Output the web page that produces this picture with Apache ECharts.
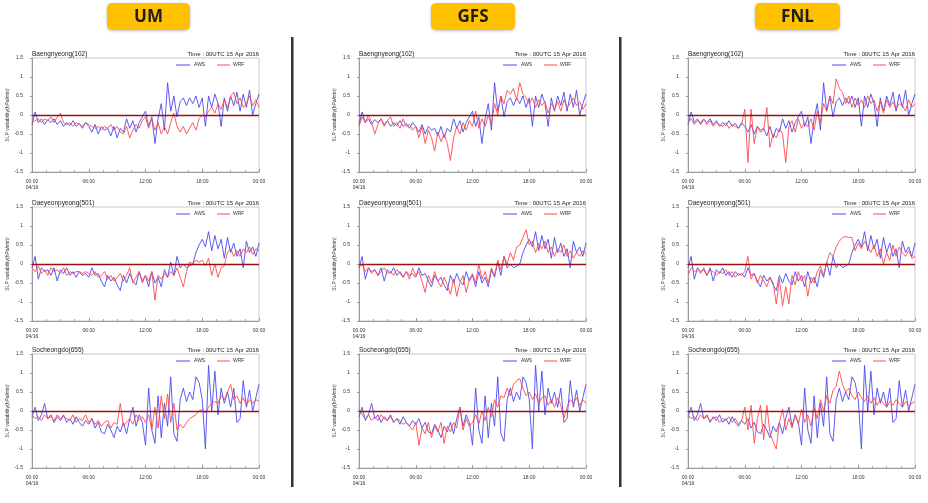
<!DOCTYPE html>
<html><head><meta charset="utf-8">
<script src="https://cdn.jsdelivr.net/npm/echarts/dist/echarts.min.js"></script>
<style>html,body{margin:0;padding:0;background:#fff}#c{width:928px;height:503px}</style>
</head><body><div id="c"></div>
<script>
// ---------- data ----------
const models = ['UM', 'GFS', 'FNL'];
const stations = ['Baengnyeong(102)', 'Daeyeonpyeong(501)', 'Socheongdo(655)'];
const timeLabel = 'Time : 00UTC 15 Apr 2016';
const yAxisName = 'SLP variability(hPa/min)';
const xTickLabels = ['00:00', '06:00', '12:00', '18:00', '00:00'];
const dateLabel = '04/16';
const legendNames = ['AWS', 'WRF'];
const stepHours = 1 / 3; // one sample every 20 min, 73 samples over 24 h

const aws_Baengnyeong = [
 -0.25, 0.08, -0.2, -0.1, -0.25, -0.12, -0.2, -0.1, -0.25,
 -0.15, -0.3, -0.2, -0.28, -0.15, -0.3, -0.22, -0.35, -0.2,
 -0.3, -0.45, -0.25, -0.5, -0.3, -0.4, -0.35, -0.55, -0.3,
 -0.6, -0.35, -0.45, -0.1, -0.35, -0.15, -0.45, -0.2, -0.05,
 0.1, -0.3, -0.05, -0.75, -0.1, 0.3, -0.4, 0.85, 0.1,
 0.5, -0.05, 0.35, 0.45, 0.25, 0.45, 0.3, 0.5, 0.2,
 0.45, -0.3, 0.5, 0.2, 0.55, 0.3, -0.3, 0.45, 0.1,
 0.5, 0.25, 0.6, 0.1, 0.55, 0.2, 0.65, 0.0, 0.3,
 0.55];
const aws_Daeyeonpyeong = [
 -0.1, 0.2, -0.4, -0.1, -0.2, -0.15, -0.3, -0.1, -0.45,
 -0.15, -0.25, -0.1, -0.3, -0.2, -0.35, -0.2, -0.3, -0.25,
 -0.35, -0.1, -0.3, -0.25, -0.45, -0.6, -0.3, -0.45, -0.35,
 -0.55, -0.7, -0.3, -0.5, -0.25, -0.45, -0.55, -0.2, -0.45,
 -0.3, -0.6, -0.2, -0.5, -0.35, -0.6, -0.15, -0.35, 0.05,
 -0.3, 0.2, -0.1, 0.0, -0.1, -0.05, 0.0, 0.3, 0.5,
 0.65, 0.45, 0.85, 0.35, 0.75, 0.4, 0.65, 0.15, 0.7,
 0.3, 0.55, 0.2, 0.4, -0.1, 0.6, 0.3, 0.45, 0.2,
 0.55];
const aws_Socheongdo = [
 -0.15, 0.1, -0.25, -0.1, 0.2, -0.2, -0.1, -0.3, -0.15,
 -0.25, -0.1, -0.3, -0.2, -0.35, -0.15, -0.3, -0.4, -0.25,
 -0.35, -0.2, -0.45, -0.3, -0.55, -0.6, -0.35, -0.5, -0.7,
 -0.4, -0.55, -0.3, -0.6, -0.2, 0.1, -0.4, -0.1, -0.3,
 -0.9, 0.6, -0.5, -0.85, 0.4, -0.7, 0.2, -0.4, 0.9,
 -0.6, -0.8, 0.3, 0.6, 0.25, 0.5, 0.3, 0.9, 0.75,
 0.3, -1.0, 1.2, 0.0, 1.05, -0.1, 0.6, 0.2, 0.5,
 0.1, 0.6, -0.3, -0.2, 0.8, 0.1, 0.55, 0.0, 0.35,
 0.7];

const wrf_UM_Baengnyeong = [
 -0.2, -0.15, -0.1, -0.2, -0.1, -0.15, -0.05, -0.2, -0.05,
 0.05, -0.2, -0.25, -0.2, -0.3, -0.2, -0.25, -0.3, -0.2,
 -0.25, -0.3, -0.35, -0.3, -0.4, -0.3, -0.35, -0.25, -0.4,
 -0.3, -0.45, -0.5, -0.3, -0.6, -0.4, -0.25, -0.35, -0.15,
 -0.05, -0.35, -0.1, -0.4, -0.2, -0.5, -0.3, -0.5, -0.2,
 0.05, -0.3, -0.45, -0.3, -0.5, -0.35, -0.2, -0.4, -0.1,
 0.0, -0.05, 0.1, 0.2, 0.05, 0.3, 0.15, 0.4, 0.2,
 0.5, 0.6, 0.3, 0.45, 0.2, 0.3, 0.5, 0.25, 0.4,
 0.2];
const wrf_GFS_Baengnyeong = [
 -0.3, -0.05, -0.2, 0.0, -0.2, -0.5, -0.25, -0.1, -0.3,
 -0.15, -0.05, -0.3, -0.2, -0.35, -0.1, -0.3, -0.25, -0.4,
 -0.3, -0.6, -0.3, -0.75, -0.4, -0.6, -0.95, -0.45, -0.7,
 -0.5, -0.75, -1.2, -0.6, -0.3, -0.5, -0.2, -0.4, -0.15,
 -0.3, 0.1, -0.35, -0.1, -0.3, 0.0, -0.25, 0.3, 0.0,
 0.5, 0.3, 0.65, 0.55, 0.7, 0.4, 0.85, 0.55, 0.45,
 0.3, 0.45, 0.2, 0.4, 0.25, 0.35, 0.05, 0.3, 0.15,
 0.35, 0.1, 0.4, 0.2, 0.3, 0.45, 0.25, 0.35, 0.15,
 0.3];
const wrf_FNL_Baengnyeong = [
 -0.2, -0.1, -0.25, -0.15, -0.2, -0.1, -0.25, -0.15, -0.3,
 -0.2, -0.25, -0.3, -0.2, -0.35, -0.25, -0.3, -0.35, -0.25,
 0.15, -1.25, 0.15, -0.75, -0.3, -0.45, -0.4, 0.2, -0.85,
 -0.5, -0.6, -0.35, -0.5, -1.25, -0.3, -0.15, -0.45, -0.1,
 -0.35, -0.2, -0.3, -0.1, -0.4, 0.1, -0.2, 0.3, 0.1,
 0.5, 0.3, 0.95, 0.7, 0.6, 0.3, 0.5, 0.2, 0.45,
 0.25, 0.4, 0.2, 0.5, 0.3, 0.4, 0.1, 0.35, 0.05,
 0.4, 0.2, 0.35, 0.15, 0.3, 0.25, 0.1, 0.4, 0.2,
 0.3];
const wrf_UM_Daeyeonpyeong = [
 -0.1, -0.2, -0.05, -0.25, -0.15, -0.3, -0.1, -0.2, -0.15,
 -0.25, -0.1, -0.3, -0.2, -0.25, -0.2, -0.2, -0.25, -0.2,
 -0.25, -0.3, -0.2, -0.35, -0.3, -0.2, -0.4, -0.3, -0.45,
 -0.35, -0.25, -0.45, -0.3, -0.1, -0.5, -0.35, -0.2, -0.5,
 -0.3, -0.45, -0.2, -0.95, -0.3, -0.4, -0.25, -0.35, -0.2,
 -0.3, -0.1, -0.35, -0.6, -0.2, 0.05, 0.0, 0.1, 0.05,
 0.1, -0.05, 0.15, -0.3, 0.0, -0.35, -0.1, -0.05, 0.3,
 0.4, 0.2, 0.35, 0.2, 0.4, 0.3, 0.45, 0.25, 0.4,
 0.35];
const wrf_GFS_Daeyeonpyeong = [
 -0.1, 0.0, -0.2, -0.1, -0.25, -0.15, -0.3, -0.2, -0.1,
 -0.25, -0.2, -0.3, -0.15, -0.25, -0.35, -0.2, -0.4, -0.1,
 -0.3, -0.2, -0.45, -0.75, -0.3, -0.5, -0.2, -0.45, -0.6,
 -0.35, -0.55, -0.8, -0.4, -0.85, -0.5, -0.3, -0.75, -0.4,
 -0.25, -0.5, 0.0, -0.4, -0.2, -0.5, -0.1, -0.3, 0.1,
 -0.15, 0.2, 0.0, 0.3, 0.1, 0.45, 0.5, 0.7, 0.9,
 0.5, 0.6, 0.3, 0.55, 0.4, 0.6, 0.3, 0.45, 0.2,
 0.4, 0.3, 0.5, 0.2, 0.35, 0.15, 0.3, 0.2, 0.35,
 0.25];
const wrf_FNL_Daeyeonpyeong = [
 -0.3, -0.1, -0.2, -0.15, -0.25, -0.1, -0.3, -0.15, -0.2,
 -0.3, -0.2, -0.25, -0.15, -0.3, -0.2, -0.35, -0.25, -0.3,
 -0.2, 0.2, -0.4, -0.25, -0.5, -0.3, -0.45, -0.6, -0.35,
 -0.5, -1.05, -0.4, -1.1, -0.6, -1.05, -0.3, -0.55, -0.2,
 -0.45, -0.3, -0.85, -0.35, -0.5, -0.2, -0.05, -0.3, 0.05,
 0.3, 0.2, 0.45, 0.6, 0.7, 0.72, 0.7, 0.7, 0.35,
 0.55, 0.4, 0.6, 0.45, 0.3, 0.5, 0.2, 0.4, 0.0,
 0.3, 0.1, 0.5, 0.2, 0.45, 0.3, 0.2, 0.35, 0.15,
 0.2];
const wrf_UM_Socheongdo = [
 -0.1, -0.2, -0.15, -0.25, -0.1, -0.2, -0.15, -0.25, -0.1,
 -0.2, -0.15, -0.2, -0.25, -0.1, -0.3, -0.2, -0.25, -0.1,
 -0.3, -0.2, -0.35, -0.25, -0.4, -0.3, -0.25, -0.45, -0.3,
 -0.35, 0.2, -0.4, -0.3, -0.2, -0.35, -0.1, -0.25, -0.15,
 -0.3, -0.1, -0.5, 0.1, -0.45, 0.4, -0.2, 0.45, -0.3,
 0.2, -0.5, -0.35, -0.45, -0.3, -0.2, -0.15, -0.1, 0.0,
 0.05, -0.05, 0.1, 0.2, 0.25, 0.2, 0.4, 0.3, 0.5,
 0.7, 0.3, 0.4, 0.2, 0.35, 0.15, 0.3, 0.2, 0.3,
 0.25];
const wrf_GFS_Socheongdo = [
 0.05, -0.1, -0.2, -0.1, -0.25, -0.15, -0.25, -0.1, -0.2,
 -0.25, -0.15, -0.3, -0.2, -0.25, -0.35, -0.3, -0.4, -0.5,
 -0.3, -0.9, -0.45, -0.6, -0.3, -0.7, -0.4, -0.55, -0.3,
 -0.85, -0.4, -0.55, -0.3, -0.45, 0.1, -0.5, -0.2, -0.4,
 -0.3, -0.1, -0.35, 0.0, -0.25, 0.1, -0.15, 0.3, 0.1,
 0.4, 0.35, 0.6, 0.4, 0.7, 0.8, 0.85, 0.6, 0.4,
 0.5, 0.3, 0.45, 0.2, 0.35, 0.4, 0.15, 0.3, 0.1,
 0.35, 0.15, -0.2, 0.1, 0.3, 0.2, 0.35, 0.15, 0.3,
 0.2];
const wrf_FNL_Socheongdo = [
 -0.1, -0.2, -0.15, -0.25, -0.1, -0.2, -0.15, -0.25, -0.2,
 -0.15, -0.3, -0.2, -0.25, -0.15, -0.3, -0.2, -0.35, -0.25,
 0.1, -0.5, 0.15, -0.85, -0.2, 0.15, -0.75, 0.15, -0.6,
 -0.8, -1.0, -0.3, 0.05, -0.5, -0.2, -0.45, -0.1, -0.35,
 0.05, -0.3, -0.1, -0.4, 0.1, -0.2, 0.3, 0.0, 0.4,
 0.2, 0.55, 0.65, 1.05, 0.7, 0.5, 0.6, 0.4, 0.3,
 0.5, 0.35, 0.25, 0.4, 0.2, 0.35, 0.15, 0.3, 0.2,
 0.1, 0.25, 0.15, 0.3, 0.2, 0.1, 0.25, 0.15, 0.2,
 0.25];

const awsByStation = [aws_Baengnyeong, aws_Daeyeonpyeong, aws_Socheongdo];
const wrfByModelStation = [
  [wrf_UM_Baengnyeong, wrf_UM_Daeyeonpyeong, wrf_UM_Socheongdo],
  [wrf_GFS_Baengnyeong, wrf_GFS_Daeyeonpyeong, wrf_GFS_Socheongdo],
  [wrf_FNL_Baengnyeong, wrf_FNL_Daeyeonpyeong, wrf_FNL_Socheongdo]
];

// ---------- layout / style ----------
const colLeft = [32, 359, 688];
const plotW = 227;
const rowTop = [58, 207, 354];
const plotH = 114;
const headerBoxes = [{x: 107, w: 83}, {x: 431, w: 84}, {x: 755, w: 85}];
const sepX = [291, 619];
const AWS_COLOR = '#4a4af2';
const WRF_COLOR = '#ff4a4a';
const ZERO_COLOR = '#9a1010';
const FONT = '"Liberation Sans", Arial, sans-serif';

const toXY = arr => arr.map((v, i) => [i * stepHours, v]);

const grid = [], xAxis = [], yAxis = [], series = [], graphic = [];

models.forEach((m, c) => {
  const hb = headerBoxes[c];
  graphic.push({type: 'rect', z: 10, shape: {x: hb.x, y: 3, width: hb.w, height: 27, r: 5},
    style: {fill: '#FFC000', shadowBlur: 3, shadowColor: 'rgba(0,0,0,0.25)', shadowOffsetY: 1}});
  graphic.push({type: 'text', z: 11, x: hb.x + hb.w / 2, y: 17,
    style: {text: m, font: 'bold 17px "Open Sans", "Noto Sans", sans-serif', fill: '#1c1c1c',
      textAlign: 'center', textVerticalAlign: 'middle'}});
});
sepX.forEach(x => graphic.push({type: 'rect', z: 10, shape: {x: x, y: 37, width: 2.5, height: 450}, style: {fill: '#333'}}));

let k = 0;
for (let r = 0; r < 3; r++) {
  for (let c = 0; c < 3; c++) {
    const L = colLeft[c], T = rowTop[r], R = L + plotW;
    grid.push({left: L, top: T, width: plotW, height: plotH, show: true, borderColor: '#c8c8c8', borderWidth: 1, backgroundColor: '#fff'});
    xAxis.push({
      gridIndex: k, type: 'value', min: 0, max: 24, interval: 6,
      axisLine: {show: true, onZero: false, lineStyle: {color: '#9a9a9a', width: 1}},
      axisTick: {show: true, inside: true, length: 3, lineStyle: {color: '#9a9a9a'}},
      minorTick: {show: true, splitNumber: 4, length: 2, lineStyle: {color: '#aaa'}},
      splitLine: {show: false},
      axisLabel: {fontSize: 5, color: '#333', margin: 7, fontFamily: FONT, lineHeight: 6,
        formatter: v => { const idx = Math.round(v / 6); return idx === 0 ? xTickLabels[0] + '\n' + dateLabel : xTickLabels[idx]; }}
    });
    yAxis.push({
      gridIndex: k, type: 'value', min: -1.5, max: 1.5, interval: 0.5,
      axisLine: {show: true, lineStyle: {color: '#9a9a9a', width: 1}},
      axisTick: {show: true, length: 2, lineStyle: {color: '#9a9a9a'}},
      splitLine: {show: false},
      axisLabel: {fontSize: 5, color: '#333', margin: 9, fontFamily: FONT, formatter: v => String(v)},
      name: yAxisName, nameLocation: 'middle', nameGap: 22,
      nameTextStyle: {fontSize: 5, color: '#333', fontFamily: FONT}
    });
    series.push({
      name: legendNames[0], type: 'line', xAxisIndex: k, yAxisIndex: k, data: toXY(awsByStation[r]),
      symbol: 'none', color: AWS_COLOR, lineStyle: {color: AWS_COLOR, width: 0.9}, itemStyle: {color: AWS_COLOR},
      silent: true, z: 2
    });
    series.push({
      name: legendNames[1], type: 'line', xAxisIndex: k, yAxisIndex: k, data: toXY(wrfByModelStation[c][r]),
      symbol: 'none', color: WRF_COLOR, lineStyle: {color: WRF_COLOR, width: 0.9}, itemStyle: {color: WRF_COLOR},
      silent: true, z: 3,
      markLine: {silent: true, symbol: ['none', 'none'], label: {show: false},
        lineStyle: {color: ZERO_COLOR, width: 1.4, type: 'solid'}, data: [{yAxis: 0}]}
    });
    // legend (drawn as graphic so each panel keeps its own colours)
    const ly = T + 7;
    graphic.push({type: 'line', z: 12, shape: {x1: R - 83, y1: ly, x2: R - 69, y2: ly}, style: {stroke: AWS_COLOR, lineWidth: 1}});
    graphic.push({type: 'text', z: 12, x: R - 65, y: ly,
      style: {text: legendNames[0], font: '5px ' + FONT, fill: '#333', textAlign: 'left', textVerticalAlign: 'middle'}});
    graphic.push({type: 'line', z: 12, shape: {x1: R - 42, y1: ly, x2: R - 29, y2: ly}, style: {stroke: WRF_COLOR, lineWidth: 1}});
    graphic.push({type: 'text', z: 12, x: R - 26, y: ly,
      style: {text: legendNames[1], font: '5px ' + FONT, fill: '#333', textAlign: 'left', textVerticalAlign: 'middle'}});
    // panel titles
    graphic.push({type: 'text', x: L, y: T - 4,
      style: {text: stations[r], font: '6.5px ' + FONT, fill: '#222', textAlign: 'left', textVerticalAlign: 'middle'}});
    graphic.push({type: 'text', x: R, y: T - 4,
      style: {text: timeLabel, font: '6px ' + FONT, fill: '#222', textAlign: 'right', textVerticalAlign: 'middle'}});
    k++;
  }
}

const chart = echarts.init(document.getElementById('c'), null, {renderer: 'canvas'});
chart.setOption({
  animation: false,
  backgroundColor: '#fff',
  grid, xAxis, yAxis, series, graphic
});
</script>
</body></html>
